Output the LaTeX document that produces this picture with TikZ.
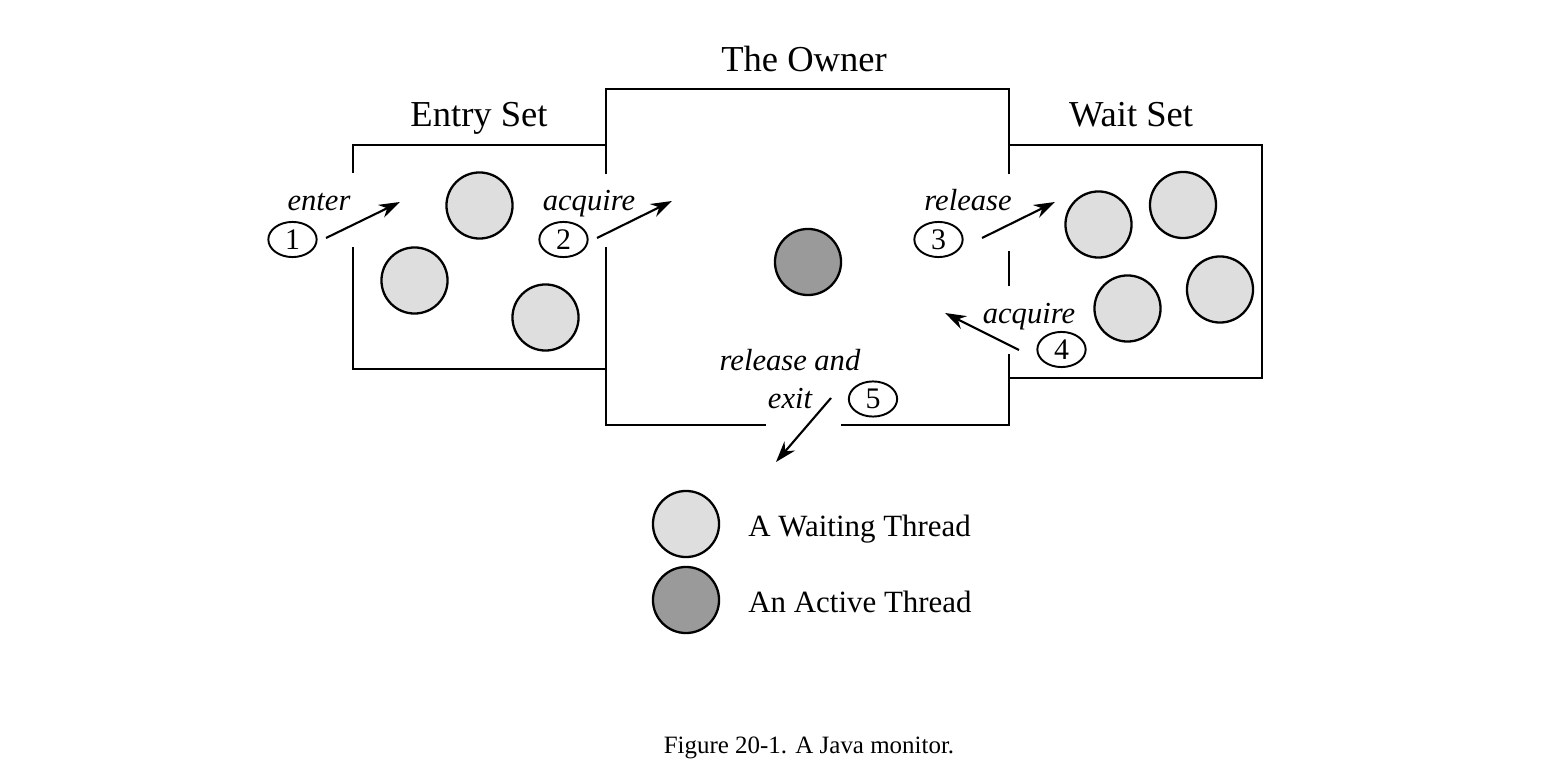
\documentclass[tikz,border=0pt]{standalone}
\usepackage{fontspec}
\setmainfont{Liberation Serif}
\usetikzlibrary{shapes.geometric,arrows.meta}
\definecolor{waitfill}{HTML}{DEDEDE}
\definecolor{activefill}{HTML}{9A9A9A}
\tikzset{
  wall/.style={line width=1.6pt, line cap=rect, line join=miter},
  thread/.style={circle, draw, line width=1.3pt, minimum size=37.6pt, inner sep=0pt},
  waiting/.style={thread, fill=waitfill},
  active/.style={thread, fill=activefill},
  heading/.style={font=\fontsize{20.8}{24}\selectfont, inner sep=0pt, anchor=base},
  lbl/.style={font=\fontsize{17.4}{20}\selectfont\itshape, inner sep=0pt, anchor=base},
  num/.style={ellipse, draw, line width=1.1pt, minimum width=27.5pt, minimum height=20pt, inner sep=0pt, font=\fontsize{17}{20}\selectfont},
  legend/.style={font=\fontsize{17.6}{20}\selectfont, inner sep=0pt, anchor=base west},
  flow/.style={line width=1.2pt, -{Stealth[length=12pt,width=8pt]}}
}
\begin{document}
\begin{tikzpicture}[x=0.02cm,y=-0.02cm]
\useasboundingbox (0,0) rectangle (1566,780);
\fill[white] (0,0) rectangle (1566,780);
% Entry set box
\draw[wall] (353,172) -- (353,145) -- (606,145);
\draw[wall] (353,248) -- (353,369) -- (606,369);
% Owner box
\draw[wall] (606,173) -- (606,89) -- (1009,89) -- (1009,173);
\draw[wall] (606,248) -- (606,425) -- (765,425);
\draw[wall] (842,425) -- (1009,425) -- (1009,355);
\draw[wall] (1009,252) -- (1009,285);
% Wait set box
\draw[wall] (1009,145) -- (1262,145) -- (1262,378) -- (1009,378);
% headings
\node[heading] (hentry) at (479,127) {Entry Set};
\node[heading] (howner) at (804,72) {The Owner};
\node[heading] (hwait) at (1131,127) {Wait Set};
% threads
\node[waiting] (e1) at (479.5,205.5) {};
\node[waiting] (e2) at (414.5,280.5) {};
\node[waiting] (e3) at (545.5,317.5) {};
\node[active] (o1) at (808,262) {};
\node[waiting] (w1) at (1098.5,224.5) {};
\node[waiting] (w2) at (1183,205) {};
\node[waiting] (w3) at (1127.5,308.5) {};
\node[waiting] (w4) at (1220,289.5) {};
% numbers
\node[num] (n1) at (292.5,239.5) {1};
\node[num] (n2) at (563.5,239.5) {2};
\node[num] (n3) at (938.5,239.5) {3};
\node[num] (n4) at (1061.5,349.5) {4};
\node[num] (n5) at (873,399) {5};
% labels
\node[lbl] (l1) at (319,211) {enter};
\node[lbl] (l2) at (589,211) {acquire};
\node[lbl] (l3) at (968,211) {release};
\node[lbl] (l4) at (1029,324) {acquire};
\node[lbl] (l5a) at (790,371) {release and};
\node[lbl] (l5b) at (790,409) {exit};
% arrows
\coordinate (a1s) at (326,238); \coordinate (a1e) at (400,202);
\coordinate (a2s) at (597,238); \coordinate (a2e) at (672,201);
\coordinate (a3s) at (982,238); \coordinate (a3e) at (1055,202);
\coordinate (a4s) at (1019,350); \coordinate (a4e) at (945,313);
\coordinate (a5s) at (831,398); \coordinate (a5e) at (776,462);
\draw[flow] (a1s) -- (a1e);
\draw[flow] (a2s) -- (a2e);
\draw[flow] (a3s) -- (a3e);
\draw[flow] (a4s) -- (a4e);
\draw[flow] (a5s) -- (a5e);
% legend
\node[waiting] (lw) at (686,524) {};
\node[active] (la) at (686,600) {};
\node[legend] (tw) at (748,537) {A Waiting Thread};
\node[legend] (ta) at (748,612) {An Active Thread};
% caption
\node[font=\fontsize{14.2}{17}\selectfont, inner sep=0pt, anchor=base] (cap) at (809,753) {Figure 20-1. A Java monitor.};
\end{tikzpicture}
\end{document}
